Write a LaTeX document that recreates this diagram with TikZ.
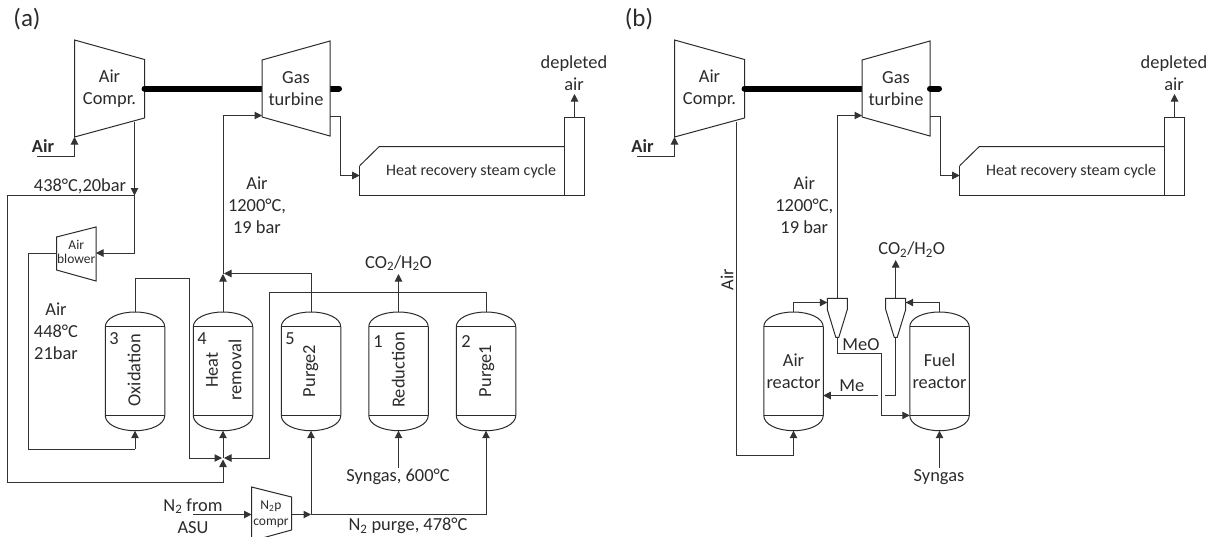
\documentclass[tikz,border=0pt]{standalone}
\usepackage{fontspec}
\setmainfont{Carlito}
\usetikzlibrary{arrows.meta}
\definecolor{ink}{HTML}{2B2B2B}
\definecolor{pipe}{HTML}{333333}
\newcommand{\labfont}{\fontsize{18.4}{22}\selectfont}
\tikzset{
  lab/.style={inner sep=0pt,outer sep=0pt,text=ink,align=center,font=\labfont},
  tightlab/.style={inner sep=0pt,outer sep=0pt,text=ink,font=\labfont},
  boldlab/.style={lab,font=\labfont\bfseries},
  smalllab/.style={lab,font=\fontsize{13.5}{16}\selectfont},
  hrlab/.style={lab,font=\fontsize{16}{18}\selectfont},
  panel/.style={lab,font=\fontsize{25}{28}\selectfont},
  anchorbox/.style={inner sep=0pt,outer sep=0pt,rectangle,draw=none},
  outline/.style={draw=ink,line width=1pt,line join=miter},
  flow/.style={draw=pipe,line width=1pt,-{Triangle[length=7.5pt,width=7.5pt]}},
  plain/.style={draw=pipe,line width=1pt},
  shaft/.style={draw=black,line width=6pt,line cap=round},
}
% name, xleft, xright, ytop-left, ybot-left, ytop-right, ybot-right, text, label style
\newcommand{\machine}[9]{%
  \coordinate (#1-tl) at (#2,#4); \coordinate (#1-bl) at (#2,#5);
  \coordinate (#1-tr) at (#3,#6); \coordinate (#1-br) at (#3,#7);
  \draw[outline,fill=white] (#1-tl) -- (#1-tr) -- (#1-br) -- (#1-bl) -- cycle;
  \node[anchorbox,#9,minimum width={#3-#2},minimum height=30] (#1) at ({(#2+#3)/2},{(#4+#5)/2}) {#8};
}
% name, cx, label style, text
\newcommand{\vessel}[4]{%
  \node[anchorbox,#3,minimum width=59.5,minimum height=118.7] (#1) at (#2,371.35) {#4};
  \draw[outline] ({#2-29.75},326.9) .. controls ({#2-29.75},318) and ({#2-16},312) .. (#2,312)
     .. controls ({#2+16},312) and ({#2+29.75},318) .. ({#2+29.75},326.9) -- ({#2+29.75},415.4)
     .. controls ({#2+29.75},424.5) and ({#2+16},430.7) .. (#2,430.7)
     .. controls ({#2-16},430.7) and ({#2-29.75},424.5) .. ({#2-29.75},415.4) -- cycle;
  \draw[outline] ({#2-29.75},326.9) -- ({#2+29.75},326.9);
  \draw[outline] ({#2-29.75},415.4) -- ({#2+29.75},415.4);
}
% name, cx
\newcommand{\cyclone}[2]{%
  \node[anchorbox,minimum width=20,minimum height=39] (#1) at (#2,317.8) {};
  \draw[outline] ({#2-10},298.3) -- ({#2+10},298.3) -- ({#2+10},309.5) -- ({#2+1.5},337.3) -- ({#2-1.5},337.3) -- ({#2-10},309.5) -- cycle;
}
% HRSG: name, dx
\newcommand{\hrsg}[2]{%
  \node[anchorbox,minimum width=205,minimum height=49] (#1) at ({#2+462},170.5) {};
  \node[anchorbox,minimum width=19.6,minimum height=77.5] (#1s) at ({#2+574.5},156.25) {};
  \coordinate (#1-in) at ({#2+359.7},175.5);
  \draw[outline] ({#2+359.7},165.7) -- ({#2+379.3},146.5) -- ({#2+564.7},146.5);
  \draw[outline] ({#2+359.7},165.7) -- ({#2+359.7},195) -- ({#2+564.7},195);
  \draw[outline] (#1s.south west) rectangle (#1s.north east);
}
\begin{document}
\begin{tikzpicture}[x=1pt,y=-1pt]
\useasboundingbox (0,0) rectangle (1214,536);
\node[panel] (pa) at (27,19) {(a)};
\node[panel] (pb) at (639,19) {(b)};

% ---------- panel (a) ----------
\machine{ca}{74.5}{144.5}{40}{137}{59.5}{118}{Air\\Compr.}{lab}
\coordinate (sa1) at (144.5,88.5); \coordinate (sa2) at (339,88.5);
\draw[shaft] (sa1) -- (sa2);
\machine{ta}{262}{330}{60}{117}{41}{136}{Gas\\turbine}{lab}
\machine{ba}{56.5}{96}{237}{270}{227}{281}{\strut Air\\[-2pt]\strut blower}{smalllab}
\machine{na}{251.5}{291.5}{487}{541}{497}{530}{}{smalllab}
\node[smalllab] (na1) at (271,506) {N\textsubscript{2}p};
\node[smalllab] (na2) at (271,523.5) {compr};
\hrsg{ha}{0}
\node[hrlab] (hal) at (471,171) {Heat recovery steam cycle};
\vessel{ox}{135}{lab}{}
\vessel{hr}{223}{lab}{}
\vessel{pt}{311}{lab}{}
\vessel{re}{398.5}{lab}{}
\vessel{po}{486}{lab}{}
\node[lab,rotate=90] (oxl) at (134,370) {Oxidation};
\node[lab,rotate=90] (hrl1) at (212,370) {Heat};
\node[lab,rotate=90] (hrl2) at (235,370) {removal};
\node[lab,rotate=90] (ptl) at (310.7,371) {Purge2};
\node[lab,rotate=90] (rel) at (398.3,370) {Reduction};
\node[lab,rotate=90] (pol) at (486.7,371) {Purge1};
\node[lab] (n3) at (114,338.5) {3};
\node[lab] (n4) at (202,338.5) {4};
\node[lab] (n5) at (290,338.5) {5};
\node[lab] (n1) at (378,341.5) {1};
\node[lab] (n2) at (466,341.5) {2};

\coordinate (aa) at (37,156.5);
\node[boldlab] (aal) at (43,146.5) {Air};
\draw[flow] (aa) -| (ca-bl);
\coordinate (cao) at (134.5,122);
\coordinate (spl) at (134.5,195.5);
\draw[flow] (cao) -- (spl);
\draw[flow] (spl) |- (96,253);
\coordinate (mix) at (223,459.5);
\draw[flow] (spl) -- (7.5,195.5) |- (223,482) -- (mix);
\draw[plain] (56.5,253.5) -- (28,253.5) |- (135,449);
\draw[flow] (135,449) -- (ox.south);
\draw[flow] (ox.north) |- (189,278) |- (222,458);
\draw[flow] (223,458) -- (hr.south);
\coordinate (tin) at (262,115.5);
\draw[flow] (hr.north) -- (223,274);
\draw[flow] (223,274) |- (tin);
\draw[flow] (pt.north) |- (224,273.5);
\draw[flow] (po.north) |- (269,292) |- (224,458);
\draw[flow] (re.north) -- (398.5,274);
\coordinate (sgs) at (398.5,468);
\draw[flow] (sgs) -- (re.south);
\coordinate (nin) at (193,514.5);
\draw[flow] (nin) -- (251.5,514.5);
\coordinate (nj) at (311,514.5);
\draw[flow] (291.5,514.5) -- (nj);
\draw[flow] (nj) -- (pt.south);
\draw[flow] (nj) -| (po.south);
\draw[flow] (330,116) -- (340,116) |- (ha-in);
\draw[flow] (has.north) -- (574.5,94);

\node[lab] (t1) at (257,205) {Air\\1200°C,\\19 bar};
\node[lab] (t2) at (80,186) {438°C,20bar};
\node[lab] (t3) at (56,331) {Air\\448°C\\21bar};
\node[lab] (t4) at (398.5,263) {CO\textsubscript{2}/H\textsubscript{2}O};
\node[lab] (t5) at (398,477) {Syngas, 600°C};
\node[lab] (t6) at (193,506) {N\textsubscript{2} from};
\node[tightlab] (t7) at (193,527.5) {ASU};
\node[lab] (t8) at (408,526) {N\textsubscript{2} purge, 478°C};
\node[lab] (t9) at (574,73) {depleted\\air};

% ---------- panel (b) ----------
\machine{cb}{674.5}{744.5}{40}{137}{59.5}{118}{Air\\Compr.}{lab}
\coordinate (sb1) at (744.5,88.5); \coordinate (sb2) at (900,88.5);
\draw[shaft] (sb1) -- (sb2);
\machine{tb}{862}{930}{60}{117}{41}{136}{Gas\\turbine}{lab}
\coordinate (sb3) at (930,88.5); \coordinate (sb4) at (939,88.5);
\draw[shaft] (sb3) -- (sb4);
\hrsg{hb}{600}
\node[hrlab] (hbl) at (1071,171) {Heat recovery steam cycle};
\vessel{ar}{793.5}{lab}{Air\\reactor}
\vessel{fr}{939.5}{lab}{Fuel\\reactor}
\cyclone{cl}{837.3}
\cyclone{cr}{895.7}

\coordinate (ab) at (637,156.5);
\node[boldlab] (abl) at (642.5,146.5) {Air};
\draw[flow] (ab) -| (cb-bl);
\coordinate (cbo) at (736,122);
\draw[plain] (cbo) |- (793.5,455);
\draw[flow] (793.5,455) -- (ar.south);
\draw[flow] (ar.north) |- (827.3,302.5);
\draw[flow] (cl.north) |- (862,115.5);
\draw[plain] (837.3,337.3) |- (881,353);
\draw[flow] (881,353) |- (909.75,415.4);
\draw[flow] (fr.north) |- (905.7,302.5);
\draw[flow] (cr.north) -- (895.7,260);
\draw[plain] (895.7,337.3) |- (884.5,395.5);
\coordinate (mg) at (877.5,395.5);
\draw[flow] (mg) -- (823.25,395.5);
\coordinate (sgb) at (939.5,468);
\draw[flow] (sgb) -- (fr.south);
\draw[flow] (930,116) -- (940,116) |- (hb-in);
\draw[flow] (hbs.north) -- (1174.5,94);

\node[lab] (u1) at (804.3,205) {Air\\1200°C,\\19 bar};
\node[lab,rotate=90] (u2) at (727,280) {Air};
\node[lab] (u3) at (861,344.5) {MeO};
\node[lab] (u4) at (851.7,386) {Me};
\node[lab] (u5) at (911.7,249.5) {CO\textsubscript{2}/H\textsubscript{2}O};
\node[lab] (u6) at (939,477.5) {Syngas};
\node[lab] (u7) at (1174,73) {depleted\\air};
\end{tikzpicture}
\end{document}
